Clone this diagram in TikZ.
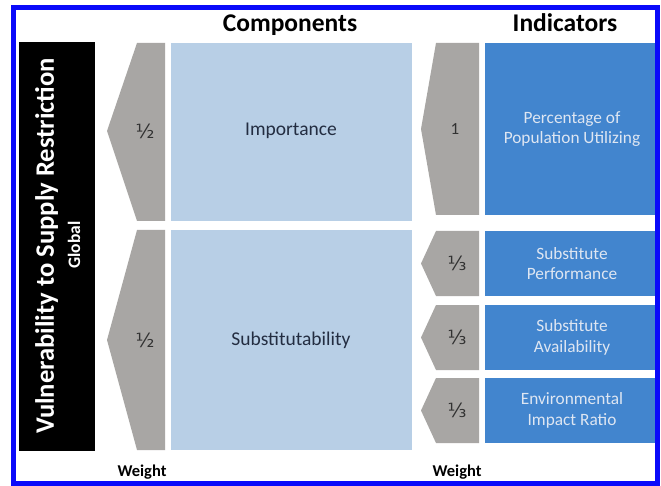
\documentclass[tikz,border=0pt]{standalone}
\usepackage{fontspec}
\setmainfont{Carlito}
\newfontfamily\symfont{DejaVu Sans}
\definecolor{frameblue}{RGB}{10,10,250}
\definecolor{chevgray}{RGB}{168,166,164}
\definecolor{lightblue}{RGB}{184,207,230}
\definecolor{darkblue}{RGB}{66,133,206}
\definecolor{comptext}{RGB}{35,45,65}
\definecolor{indtext}{RGB}{222,230,242}
\definecolor{wtext}{RGB}{50,50,50}
\tikzset{
  chev/.style={fill=chevgray},
  compbox/.style={fill=lightblue},
  indbox/.style={fill=darkblue},
  comptxt/.style={text=comptext, font=\fontsize{19.5}{22}\selectfont, align=center},
  indtxt/.style={text=indtext, font=\fontsize{17.3}{20.5}\selectfont, align=center},
  wtxt/.style={text=wtext, font=\symfont\fontsize{19.5}{22}\selectfont},
  headtxt/.style={font=\bfseries\fontsize{25.5}{30}\selectfont, anchor=base},
  weighttxt/.style={font=\bfseries\fontsize{16.5}{20}\selectfont, anchor=base},
}
\begin{document}
\begin{tikzpicture}[x=1pt,y=-1pt]
\useasboundingbox (0,0) rectangle (661,486);
\fill[white] (0,0) rectangle (661,486);
% black box
\fill[black] (19,42) rectangle (95,451);
\node[rotate=90, text=white, font=\bfseries\fontsize{26.6}{30}\selectfont] (title) at (46.5,246) {Vulnerability to Supply Restriction};
\node[rotate=90, text=white, font=\bfseries\fontsize{17.5}{20}\selectfont] (global) at (74,245) {Global};
% component chevrons
\fill[chev] (137,43) -- (165,43) -- (165,221) -- (137,221) -- (107,131) -- cycle;
\fill[chev] (137,230) -- (165,230) -- (165,450) -- (137,450) -- (107,340) -- cycle;
\node[wtxt] (w1) at (145,131) {½};
\node[wtxt] (w2) at (145,340) {½};
% component boxes
\fill[compbox] (171,43) rectangle (412,221);
\fill[compbox] (171,230) rectangle (412,450);
\node[comptxt] (imp) at (291,131) {Importance};
\node[comptxt] (sub) at (291,340) {Substitutability};
% indicator chevrons
\fill[chev] (436,43) -- (479,43) -- (479,215) -- (436,215) -- (421,129) -- cycle;
\fill[chev] (436,231) -- (479,231) -- (479,296) -- (436,296) -- (421,263.5) -- cycle;
\fill[chev] (436,305) -- (479,305) -- (479,370) -- (436,370) -- (421,337.5) -- cycle;
\fill[chev] (436,378) -- (479,378) -- (479,443) -- (436,443) -- (421,410.5) -- cycle;
\node[wtxt, font=\fontsize{17}{19}\selectfont] (v1) at (455,129) {1};
\node[wtxt] (v2) at (457,263.5) {⅓};
\node[wtxt] (v3) at (457,337.5) {⅓};
\node[wtxt] (v4) at (457,410.5) {⅓};
% indicator boxes
\fill[indbox] (485,43) rectangle (657,215);
\fill[indbox] (485,231) rectangle (657,296);
\fill[indbox] (485,305) rectangle (657,370);
\fill[indbox] (485,378) rectangle (657,443);
\node[indtxt] (i1) at (572,129) {Percentage of\\Population Utilizing};
\node[indtxt] (i2) at (572,263.5) {Substitute\\Performance};
\node[indtxt] (i3) at (572,337.5) {Substitute\\Availability};
\node[indtxt] (i4) at (572,410.5) {Environmental\\Impact Ratio};
% headings
\node[headtxt] (h1) at (290,32) {Components};
\node[headtxt] (h2) at (565,32) {Indicators};
\node[weighttxt] (wl1) at (142,476) {Weight};
\node[weighttxt] (wl2) at (457,476) {Weight};
% frame
\draw[frameblue, line width=4.5] (13.5,7.5) rectangle (657.5,483.5);
\end{tikzpicture}
\end{document}
